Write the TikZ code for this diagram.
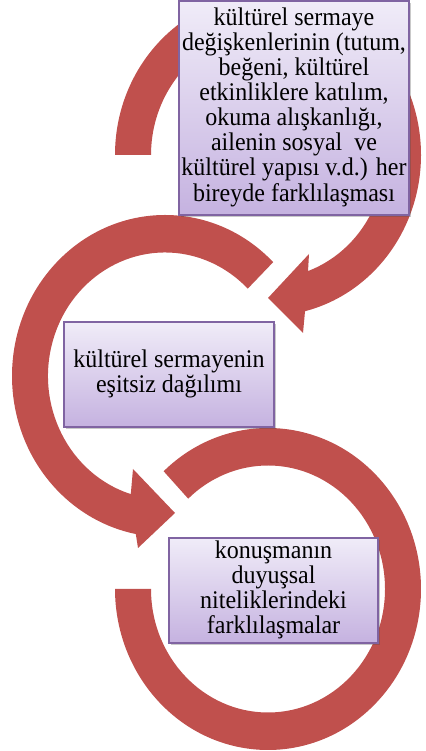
\documentclass[tikz,border=0pt]{standalone}
\usepackage{graphicx}
\usepackage{fontspec}
\setmainfont{Liberation Serif}
\usetikzlibrary{calc,shadows}
\definecolor{ringred}{HTML}{C0504D}
\definecolor{boxtop}{HTML}{F0ECF8}
\definecolor{boxbot}{HTML}{C5B2E0}
\definecolor{boxline}{HTML}{8064A2}
\newcommand{\tallText}[2]{\fontsize{24}{#1}\selectfont\scalebox{1}[1.06]{\begin{tabular}{@{}c@{}}#2\end{tabular}}}
\begin{document}
\begin{tikzpicture}[x=1pt,y=1pt,
  ring/.style={fill=ringred,draw=none},
  box/.style={draw=boxline, line width=1.1pt, top color=boxtop, bottom color=boxbot,
    inner sep=0pt, align=center,
    drop shadow={shadow xshift=1.5pt,shadow yshift=-2.5pt,opacity=0.3,fill=black!70}}]
\useasboundingbox (0,0) rectangle (425,751);
\begin{scope}
\clip (0,0) rectangle (425,751);
\coordinate (c1) at (268,596);
\coordinate (c2) at (165,375);
\coordinate (c3) at (268,162);
% circle 1
\fill[ring] ($(c1)+(180:153 and 161)$)
  arc[start angle=180, end angle=-76, x radius=153, y radius=161]
  -- (303,418) -- (268,453) -- (309,497)
  -- ($(c1)+(-70:117 and 123.5)$)
  arc[start angle=-70, end angle=180, x radius=117, y radius=123.5] -- cycle;
% circle 2
\fill[ring] ($(c2)+(45:153 and 161)$)
  arc[start angle=45, end angle=259, x radius=153, y radius=161]
  -- (138,203) -- (175,238) -- (133,282)
  -- ($(c2)+(253:117 and 123.5)$)
  arc[start angle=253, end angle=45, x radius=117, y radius=123.5] -- cycle;
% circle 3
\fill[ring] ($(c3)+(133:153 and 161)$)
  arc[start angle=133, end angle=-180, x radius=153, y radius=161]
  -- ($(c3)+(-180:117 and 123.5)$)
  arc[start angle=-180, end angle=133, x radius=117, y radius=123.5] -- cycle;
% boxes
\node[box, minimum width=230pt, minimum height=214pt] (b1) at (294,643)
  {\tallText{23.4}{kültürel sermaye\\değişkenlerinin (tutum,\\beğeni, kültürel\\etkinliklere katılım,\\okuma alışkanlığı,\\ailenin sosyal\ \ ve\\kültürel yapısı v.d.) her\\bireyde farklılaşması}};
\node[box, minimum width=210pt, minimum height=105pt] (b2) at (169,376.5)
  {\raisebox{-2pt}{\tallText{22.4}{kültürel sermayenin\\eşitsiz dağılımı}}};
\node[box, minimum width=209pt, minimum height=105pt] (b3) at (273.5,160.5)
  {\raisebox{-2pt}{\tallText{22.4}{konuşmanın\\duyuşsal\\niteliklerindeki\\farklılaşmalar}}};
\end{scope}
\end{tikzpicture}
\end{document}
